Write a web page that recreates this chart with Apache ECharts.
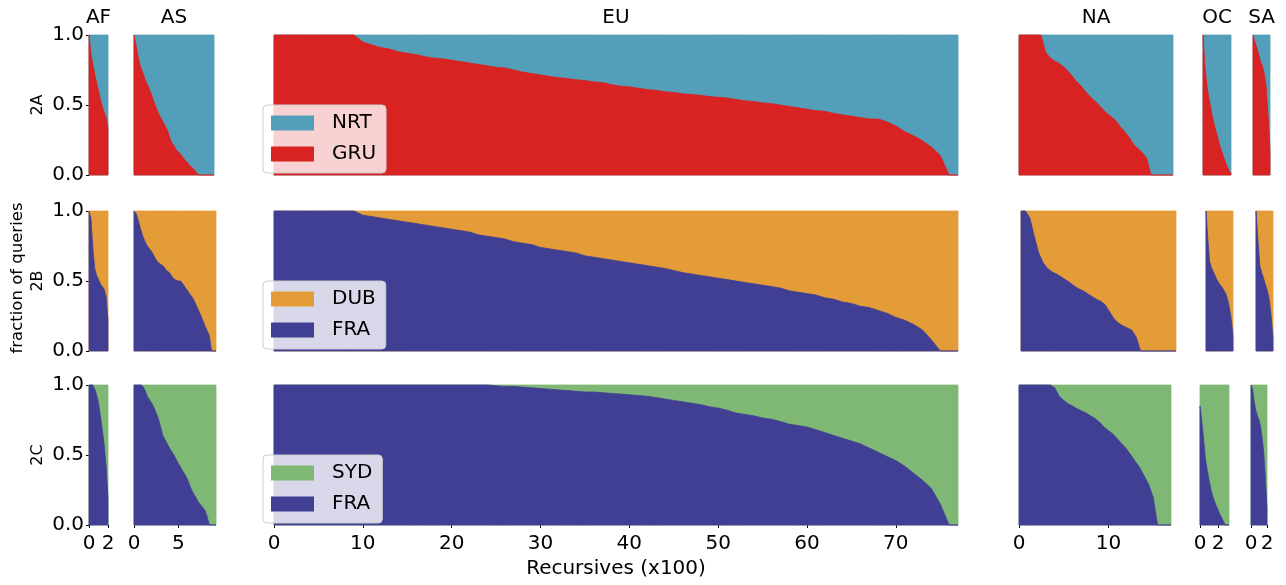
<!DOCTYPE html>
<html>
<head>
<meta charset="utf-8">
<script src="https://cdn.jsdelivr.net/npm/echarts@6/dist/echarts.min.js"></script>
<style>
html,body{margin:0;padding:0;background:#fff;}
#chart{width:1286px;height:585px;}
</style>
</head>
<body>
<div id="chart"></div>
<script>
// ---------------- data ----------------
const continents = ['AF', 'AS', 'EU', 'NA', 'OC', 'SA'];
const experiments = ['2A', '2B', '2C'];
const bottomSites = ['GRU', 'FRA', 'FRA'];
const topSites = ['NRT', 'DUB', 'SYD'];
// spacing (in hundreds of recursives) between consecutive samples, per continent
const sampleStep = [0.2, 0.25, 1, 0.5, 0.2, 0.2];
const xTickValues = [[0, 2], [0, 5], [0, 10, 20, 30, 40, 50, 60, 70], [0, 10], [0, 2], [0, 2]];
const yTickValues = [0, 0.5, 1];

// fraction of queries going to the bottom site (sorted per recursive), first to last recursive
// 2A : GRU
const gru2A_AF = [1.0,0.87,0.79,0.72,0.66,0.60,0.54,0.49,0.45,0.41,0.34];
const gru2A_AS = [1.0,0.92,0.83,0.77,0.73,0.68,0.645,0.61,0.57,0.52,0.48,0.44,0.41,0.38,0.35,0.32,0.27,0.23,0.21,0.18,0.165,0.15,0.125,0.105,0.09,0.07,0.055,0.04,0.02,0,0,0,0,0,0,0,0];
const gru2A_EU = [1,1,1,1,1,1,1,1,1,1,
  0.95,0.93,0.91,0.90,0.88,0.87,0.86,0.845,0.835,0.83,
  0.82,0.81,0.80,0.79,0.78,0.77,0.765,0.75,0.735,0.725,
  0.715,0.705,0.695,0.69,0.68,0.675,0.665,0.66,0.645,0.635,
  0.63,0.62,0.61,0.605,0.595,0.59,0.58,0.575,0.57,0.56,
  0.555,0.55,0.54,0.53,0.525,0.515,0.51,0.50,0.49,0.48,
  0.47,0.46,0.455,0.44,0.43,0.42,0.41,0.40,0.40,0.38,
  0.35,0.31,0.28,0.245,0.20,0.14,0,0];
const gru2A_NA = [1,1,1,1,1,1,0.88,0.84,0.815,0.80,0.775,0.745,0.71,0.67,0.64,0.60,0.565,0.535,0.505,0.47,0.44,0.415,0.39,0.345,0.31,0.27,0.22,0.19,0.16,0.12,0,0,0,0,0,0];
const gru2A_OC = [1.0,0.78,0.65,0.56,0.49,0.42,0.36,0.31,0.26,0.21,0.17,0.13,0.09,0.06,0.03,0.01];
const gru2A_SA = [1.0,0.95,0.91,0.86,0.81,0.78,0.72,0.62,0.42,0.18];
// 2B : FRA
const fra2B_AF = [1.0,0.95,0.74,0.59,0.54,0.51,0.48,0.46,0.44,0.39,0.22];
const fra2B_AS = [1.0,0.98,0.93,0.87,0.82,0.78,0.75,0.73,0.71,0.68,0.65,0.63,0.62,0.61,0.59,0.57,0.56,0.535,0.515,0.505,0.50,0.50,0.48,0.455,0.435,0.41,0.39,0.365,0.33,0.295,0.26,0.22,0.18,0.145,0.11,0,0,0];
const fra2B_EU = [1,1,1,1,1,1,1,1,1,1,
  0.97,0.96,0.95,0.94,0.93,0.92,0.91,0.90,0.89,0.88,
  0.87,0.86,0.85,0.83,0.82,0.81,0.80,0.78,0.77,0.76,
  0.74,0.73,0.72,0.71,0.70,0.68,0.67,0.66,0.65,0.64,
  0.63,0.62,0.61,0.60,0.59,0.575,0.56,0.55,0.54,0.53,
  0.52,0.51,0.50,0.49,0.48,0.47,0.46,0.45,0.43,0.42,
  0.41,0.40,0.38,0.37,0.35,0.34,0.32,0.31,0.29,0.27,
  0.24,0.22,0.19,0.15,0.08,0,0,0];
const fra2B_NA = [1,1,0.95,0.82,0.70,0.63,0.59,0.565,0.55,0.53,0.51,0.49,0.465,0.445,0.43,0.41,0.39,0.37,0.355,0.33,0.28,0.23,0.20,0.18,0.165,0.15,0.10,0,0,0,0,0,0,0,0,0];
const fra2B_OC = [1.0,0.80,0.64,0.595,0.57,0.54,0.51,0.49,0.47,0.455,0.43,0.41,0.37,0.31,0.23,0.11];
const fra2B_SA = [1.0,0.80,0.61,0.56,0.52,0.475,0.43,0.37,0.25,0.10];
// 2C : FRA
const fra2C_AF = [1,1,1,0.97,0.93,0.87,0.78,0.68,0.57,0.42,0.2];
const fra2C_AS = [1,1,1,1,0.99,0.96,0.92,0.895,0.87,0.84,0.80,0.76,0.70,0.64,0.61,0.58,0.55,0.525,0.50,0.47,0.44,0.415,0.385,0.36,0.33,0.29,0.25,0.22,0.195,0.165,0.145,0.125,0.105,0.06,0,0,0,0];
const fra2C_EU = [1,1,1,1,1,1,1,1,1,1,1,1,1,1,1,1,1,1,1,1,1,1,1,1,1,
  0.995,0.99,0.99,0.985,0.98,
  0.975,0.97,0.965,0.96,0.955,0.95,0.95,0.945,0.94,0.935,
  0.93,0.925,0.92,0.91,0.90,0.89,0.88,0.87,0.86,0.845,
  0.835,0.82,0.80,0.79,0.78,0.765,0.755,0.74,0.72,0.71,
  0.70,0.68,0.66,0.64,0.62,0.60,0.58,0.55,0.52,0.49,
  0.46,0.42,0.37,0.32,0.26,0.15,0,0];
const fra2C_NA = [1,1,1,1,1,1,1,1,0.98,0.92,0.89,0.865,0.85,0.83,0.815,0.80,0.78,0.76,0.735,0.70,0.675,0.65,0.615,0.58,0.545,0.50,0.455,0.41,0.35,0.29,0.20,0,0,0,0];
const fra2C_OC = [0.85,0.74,0.61,0.47,0.39,0.32,0.255,0.205,0.17,0.135,0.105,0.075,0.05,0.025,0,0,0];
const fra2C_SA = [1.0,0.97,0.88,0.82,0.78,0.75,0.70,0.62,0.51,0.33,0.12];

const bottomFractions = [
  [gru2A_AF, gru2A_AS, gru2A_EU, gru2A_NA, gru2A_OC, gru2A_SA],
  [fra2B_AF, fra2B_AS, fra2B_EU, fra2B_NA, fra2B_OC, fra2B_SA],
  [fra2C_AF, fra2C_AS, fra2C_EU, fra2C_NA, fra2C_OC, fra2C_SA]
];

// ---------------- layout & style ----------------
const FONT = 'DejaVu Sans';
const siteColor = {GRU: '#d92222', NRT: '#539eb9', FRA: '#413f94', DUB: '#e49c38', SYD: '#7fb874'};
const rowTop = [35, 211, 385];
const rowHeight = 140;
const panelX = [
  [[89,108],[134,214],[274,958],[1019,1173],[1203,1231],[1253,1270]],
  [[89,108],[134,216],[274,958],[1021,1176],[1206,1233],[1256,1273]],
  [[89,108],[134,216],[274,958],[1019,1171],[1200,1229],[1251,1267]]
];

// band polygon between a lower and an upper boundary, projected through the axes
function bandSeries(name, k, upper, lower, color, z) {
  return {
    type: 'custom', name, coordinateSystem: 'cartesian2d', xAxisIndex: k, yAxisIndex: k,
    data: upper, silent: true, animation: false, clip: false, z,
    itemStyle: {color},
    renderItem: (params, api) => {
      if (params.dataIndex !== 0) return null;
      const pts = upper.map(p => api.coord(p)).concat(lower.slice().reverse().map(p => api.coord(p)));
      return {
        type: 'polygon', shape: {points: pts},
        style: {fill: color, stroke: color, lineWidth: 0.8}
      };
    }
  };
}

const grid = [], xAxis = [], yAxis = [], series = [], legend = [], graphic = [];

for (let r = 0; r < 3; r++) {
  for (let c = 0; c < 6; c++) {
    const k = r * 6 + c;
    const vals = bottomFractions[r][c];
    const step = sampleStep[c];
    const xMax = +((vals.length - 1) * step).toFixed(4);
    const [x0, x1] = panelX[r][c];
    grid.push({left: x0, top: rowTop[r], width: x1 - x0, height: rowHeight});
    const isBottom = r === 2;
    xAxis.push({
      gridIndex: k, type: 'value', min: 0, max: xMax,
      show: isBottom,
      axisLine: {show: false},
      axisTick: {show: isBottom, length: 3, customValues: xTickValues[c], lineStyle: {color: '#000', width: 1}},
      axisLabel: {show: isBottom, customValues: xTickValues[c], fontSize: 20, fontFamily: FONT, color: '#000', margin: 9},
      splitLine: {show: false}
    });
    yAxis.push({
      gridIndex: k, type: 'value', min: 0, max: 1, interval: 0.5,
      show: c === 0,
      axisLine: {show: false},
      axisTick: {show: true, length: 3, customValues: yTickValues, lineStyle: {color: '#000', width: 1}},
      axisLabel: {customValues: yTickValues, fontSize: 20, fontFamily: FONT, color: '#000', margin: 5,
                  formatter: v => v.toFixed(1)},
      splitLine: {show: false}
    });
    // bottom site share per recursive; top site share stacked on it (cumulative = bottom + top)
    const bottomPts = vals.map((v, i) => [+(i * step).toFixed(4), v]);
    const basePts = bottomPts.map(p => [p[0], 0]);
    const cumulativePts = bottomPts.map(p => [p[0], +(p[1] + (1 - p[1])).toFixed(4)]);
    const bName = bottomSites[r], tName = topSites[r];
    series.push(bandSeries(tName, k, cumulativePts, basePts, siteColor[tName], 1));
    series.push(bandSeries(bName, k, bottomPts, basePts, siteColor[bName], 2));
    if (r === 0) {
      graphic.push({type: 'text', x: (x0 + x1) / 2, y: 18,
        style: {text: continents[c], font: '20px "' + FONT + '"', fill: '#000', textAlign: 'center', textVerticalAlign: 'middle'}});
    }
  }
  legend.push({
    data: [topSites[r], bottomSites[r]],
    orient: 'vertical', left: 263, top: rowTop[r] + 70,
    icon: 'rect', itemWidth: 43, itemHeight: 15, itemGap: 11,
    padding: [8, 10, 9, 8],
    backgroundColor: 'rgba(255,255,255,0.8)', borderColor: '#cccccc', borderWidth: 1, borderRadius: 4,
    textStyle: {fontSize: 20, fontFamily: FONT, color: '#000', padding: [0, 0, 0, 13]},
    selectedMode: false
  });
  graphic.push({type: 'text', x: 38, y: rowTop[r] + rowHeight / 2, rotation: Math.PI / 2,
    style: {text: experiments[r], font: '16px "' + FONT + '"', fill: '#000', textAlign: 'center', textVerticalAlign: 'middle'}});
}
graphic.push({type: 'text', x: 18, y: 278, rotation: Math.PI / 2,
  style: {text: 'fraction of queries', font: '16.5px "' + FONT + '"', fill: '#000', textAlign: 'center', textVerticalAlign: 'middle'}});
graphic.push({type: 'text', x: 616, y: 569,
  style: {text: 'Recursives (x100)', font: '20px "' + FONT + '"', fill: '#000', textAlign: 'center', textVerticalAlign: 'middle'}});

const chart = echarts.init(document.getElementById('chart'), null, {renderer: 'canvas'});
chart.setOption({
  animation: false,
  backgroundColor: '#fff',
  textStyle: {fontFamily: FONT},
  grid, xAxis, yAxis, series, legend, graphic
});
</script>
</body>
</html>
